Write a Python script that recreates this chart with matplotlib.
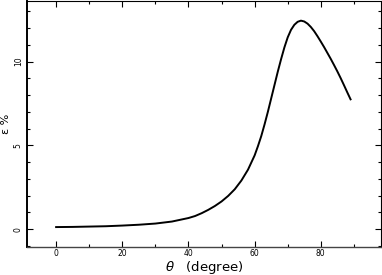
import matplotlib
matplotlib.use("Agg")
import matplotlib.pyplot as plt
from matplotlib.ticker import MultipleLocator

theta = [0, 5, 10, 15, 20, 25, 30, 35, 40, 42, 44, 46, 48, 50, 52, 54, 56, 58, 60, 61, 62, 63, 64, 65, 66, 67, 68, 69, 70, 71, 72, 73, 74, 75, 76, 77, 78, 79, 80, 81, 82, 83, 84, 85, 86, 87, 88, 89]
eps = [0.12, 0.13, 0.15, 0.17, 0.21, 0.26, 0.33, 0.45, 0.66, 0.78, 0.95, 1.15, 1.38, 1.65, 1.98, 2.38, 2.9, 3.55, 4.4, 4.95, 5.55, 6.25, 7.0, 7.8, 8.6, 9.4, 10.15, 10.85, 11.45, 11.9, 12.2, 12.38, 12.45, 12.4, 12.27, 12.07, 11.82, 11.52, 11.2, 10.87, 10.52, 10.17, 9.8, 9.42, 9.02, 8.6, 8.17, 7.75]

fig = plt.figure(figsize=(3.82, 2.75), dpi=100)
ax = fig.add_axes([27/382, 1-247/275, (381-27)/382, 247/275 - 0.002])
ax.plot(theta, eps, color="black", lw=1.4)
ax.set_xlim(-8.8, 98.2)
ax.set_ylim(-1.07, 13.65)
ax.xaxis.set_major_locator(MultipleLocator(20))
ax.xaxis.set_minor_locator(MultipleLocator(10))
ax.yaxis.set_major_locator(MultipleLocator(5))
ax.yaxis.set_minor_locator(MultipleLocator(1))
ax.tick_params(which="both", direction="in", top=True, right=True, labelsize=5.5, width=0.8)
ax.tick_params(which="major", length=4, pad=3)
ax.tick_params(axis="x", which="major", pad=1.5)
ax.tick_params(which="minor", length=2)
for lab in ax.get_yticklabels():
    lab.set_rotation(90)
    lab.set_va("center")
ax.spines["left"].set_linewidth(1.4)
ax.spines["bottom"].set_linewidth(1.0)
ax.spines["bottom"].set_color("#444444")
ax.spines["right"].set_linewidth(0.8)
ax.spines["top"].set_linewidth(0.8)
ax.set_xlabel(r"$\theta$   (degree)", fontsize=9.5, labelpad=0.5)
ax.set_ylabel("ε %", fontsize=8, labelpad=2)
fig.savefig("out.png", dpi=100)
